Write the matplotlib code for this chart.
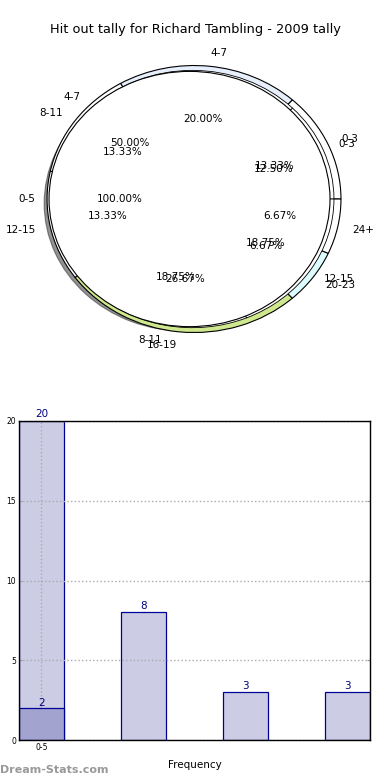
import matplotlib
matplotlib.use('Agg')
import matplotlib.pyplot as plt

# hit out tally, outer ring (2009 by quarter minutes)
ring_a_labels = ['0-3', '4-7', '8-11', '12-15', '16-19', '20-23', '24+']
ring_a_values = [2, 3, 2, 2, 4, 1, 1]
ring_a_colors = ['white', '#e8effc', 'white', 'white', '#cfe88e', '#dcfcfe', 'white']

# second ring
ring_b_labels = ['0-3', '4-7', '8-11', '12-15']
ring_b_values = [2, 8, 3, 3]

# inner pie
inner_labels = ['0-5']
inner_values = [20]

# bar chart
bar_labels = ['0-5', '', '', '']
bar_values = [20, 8, 3, 3]
bar2_values = [2]

fig = plt.figure(figsize=(3.9, 7.8), dpi=100)
fig.text(0.5, 1 - 30 / 780, 'Hit out tally for Richard Tambling - 2009 tally',
         ha='center', va='center', fontsize=9.3)

# ---- pie part ----
ax = fig.add_axes([0, 1 - 380 / 780, 1, 340 / 780])
txt = {'fontsize': 7.5}
wp = {'edgecolor': 'black', 'linewidth': 0.8}

ax.pie(ring_a_values, labels=ring_a_labels, colors=ring_a_colors,
       autopct='%1.2f%%', radius=1.046, center=(0.032, 0),
       wedgeprops=wp, textprops=txt)
ax.pie(ring_b_values, labels=ring_b_labels, colors=['white'] * 4,
       autopct='%1.2f%%', pctdistance=0.62, labeldistance=1.12,
       radius=1.008, center=(0.02, 0),
       wedgeprops={'edgecolor': 'black', 'linewidth': 0.6}, textprops=txt)
ax.pie(inner_values, labels=inner_labels, colors=['white'],
       autopct='%1.2f%%', pctdistance=0.5, radius=1.0,
       shadow={'ox': -0.025, 'oy': -0.025, 'shade': 0.85},
       wedgeprops=wp, textprops=txt)

ax.set_aspect('auto')
ax.set_xlim(-1.349, 1.427)
ax.set_ylim(-1.418, 1.246)
ax.set_axis_off()

# ---- bar part ----
bx = fig.add_axes([19 / 390, 40 / 780, 351 / 390, 319 / 780])
xs = range(len(bar_values))
bx.bar(xs, bar_values, width=0.44, color='#ccccE5', edgecolor='#000099',
       linewidth=0.9, zorder=2)
bx.bar(range(len(bar2_values)), bar2_values, width=0.44, color='#a3a3cf',
       edgecolor='#000099', linewidth=0.9, zorder=3)

for x, v in zip(xs, bar_values):
    bx.text(x, v + 0.1, str(v), ha='center', va='bottom', color='#000080',
            fontsize=7.5, zorder=6)
for x, v in enumerate(bar2_values):
    bx.text(x, v, str(v), ha='center', va='bottom', color='#000080',
            fontsize=7.5, zorder=6)

bx.set_xlim(-0.22, 3.22)
bx.set_ylim(0, 20)
bx.set_yticks([0, 5, 10, 15, 20])
bx.set_xticks([0])
bx.set_xticklabels([bar_labels[0]])
bx.tick_params(labelsize=5.5, direction='in', length=2, color='#999999',
               left=True, right=True, pad=2)
bx.set_axisbelow(False)
bx.grid(True, linestyle=':', color='#aaaaaa', linewidth=1, zorder=5)
bx.set_xlabel('Frequency', fontsize=7.5, labelpad=6)
bx.set_ylabel('Stat frequency', fontsize=7, labelpad=8)
for s in bx.spines.values():
    s.set_linewidth(1)
    s.set_zorder(7)

fig.text(0.0, 1 - 770 / 780, 'Dream-Stats.com', ha='left', va='center',
         fontsize=8, color='#999999', fontweight='bold')

fig.savefig('out.png', dpi=100)
